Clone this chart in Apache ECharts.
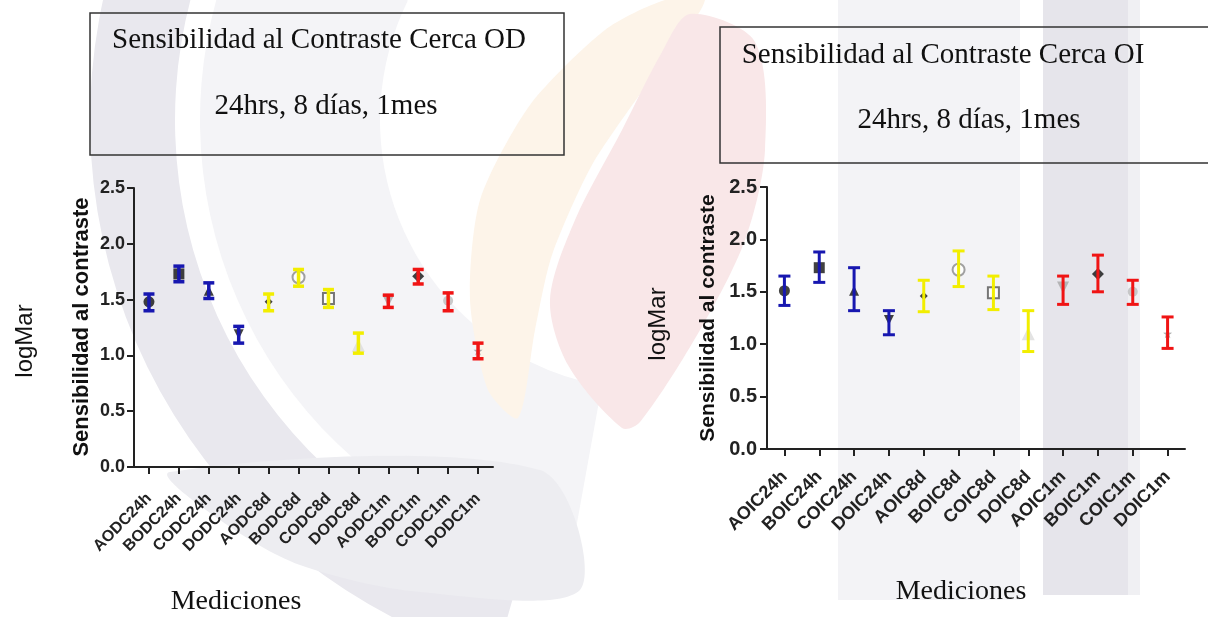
<!DOCTYPE html>
<html>
<head>
<meta charset="utf-8">
<script src="https://cdn.jsdelivr.net/npm/echarts@6/dist/echarts.min.js"></script>
<style>
html,body{margin:0;padding:0;background:#fff;}
#chart{width:1208px;height:617px;}
</style>
</head>
<body>
<div id="chart"></div>
<script>
// ---- Data ----
const odCategories = ['AODC24h','BODC24h','CODC24h','DODC24h','AODC8d','BODC8d','CODC8d','DODC8d','AODC1m','BODC1m','CODC1m','DODC1m'];
const odMean = [1.48, 1.73, 1.58, 1.19, 1.48, 1.70, 1.51, 1.09, 1.49, 1.71, 1.49, 1.04];
const odLow  = [1.40, 1.66, 1.51, 1.11, 1.40, 1.62, 1.43, 1.02, 1.43, 1.64, 1.40, 0.97];
const odHigh = [1.55, 1.80, 1.65, 1.26, 1.55, 1.77, 1.59, 1.20, 1.54, 1.77, 1.56, 1.11];

const oiCategories = ['AOIC24h','BOIC24h','COIC24h','DOIC24h','AOIC8d','BOIC8d','COIC8d','DOIC8d','AOIC1m','BOIC1m','COIC1m','DOIC1m'];
const oiMean = [1.51, 1.73, 1.51, 1.23, 1.46, 1.71, 1.49, 1.10, 1.54, 1.67, 1.50, 1.10];
const oiLow  = [1.37, 1.59, 1.32, 1.09, 1.31, 1.55, 1.33, 0.93, 1.38, 1.50, 1.38, 0.96];
const oiHigh = [1.65, 1.88, 1.73, 1.32, 1.61, 1.89, 1.65, 1.32, 1.65, 1.85, 1.61, 1.26];

const yTicks = [0.0, 0.5, 1.0, 1.5, 2.0, 2.5];
// measurement period of each category: 0 = 24h, 1 = 8d, 2 = 1m
const periodGroup = [0,0,0,0,1,1,1,1,2,2,2,2];

// ---- Styles ----
const periodColors = ['#1717b0', '#f2ee00', '#f01414'];
const downTri = 'path://M0,0 L10,0 L5,9 Z';
const star = 'path://M5,0 L6.2,3.6 L10,3.8 L7,6.1 L8.1,10 L5,7.7 L1.9,10 L3,6.1 L0,3.8 L3.8,3.6 Z';
const markerSymbols = ['circle','rect','triangle',downTri,'diamond','emptyCircle','emptyRect','triangle',downTri,'diamond','circle',star];
const markerColors  = ['#111','#111','#111','#111','#111','#8a8a8a','#555','#dcdcdc','#a8a8a8','#111','#bdbdbd','#999'];
const markerSizes   = [11,11,10,10,8,12,11,13,12,12,10,9];

function markerData(means){
  return means.map((v,i)=>({
    value: v,
    symbol: markerSymbols[i],
    symbolSize: markerSizes[i],
    itemStyle: {color: markerColors[i], borderColor: markerColors[i], borderWidth: (i===5||i===6)?3:0}
  }));
}
function errData(low, high){
  return low.map((lo,i)=>[i, lo, high[i], periodGroup[i]]);
}
function errRender(capHalf, lw){
  return function(params, api){
    const x = api.value(0), lo = api.value(1), hi = api.value(2);
    const pLo = api.coord([x, lo]), pHi = api.coord([x, hi]);
    const color = periodColors[api.value(3)];
    const style = {stroke: color, lineWidth: lw};
    return {type:'group', children:[
      {type:'line', shape:{x1:pLo[0],y1:pLo[1],x2:pHi[0],y2:pHi[1]}, style: style},
      {type:'line', shape:{x1:pLo[0]-capHalf,y1:pLo[1],x2:pLo[0]+capHalf,y2:pLo[1]}, style: style},
      {type:'line', shape:{x1:pHi[0]-capHalf,y1:pHi[1],x2:pHi[0]+capHalf,y2:pHi[1]}, style: style}
    ]};
  };
}

const axisColor = '#222';
function yAxisDef(gridIndex, fs, margin){
  return {
    type:'value', gridIndex: gridIndex, min: yTicks[0], max: yTicks[yTicks.length-1], interval: 0.5,
    axisLine:{show:true, lineStyle:{color:axisColor, width:2}},
    axisTick:{show:true, length:7, lineStyle:{color:axisColor, width:2}},
    axisLabel:{fontFamily:'Liberation Sans, Arial', fontWeight:'bold', fontSize:fs, color:'#222', margin:margin,
      formatter: v => v.toFixed(1)},
    splitLine:{show:false}
  };
}
function xAxisDef(gridIndex, cats, fs, margin){
  return {
    type:'category', gridIndex: gridIndex, data: cats, boundaryGap: true,
    axisLine:{show:true, onZero:false, lineStyle:{color:axisColor, width:2}},
    axisTick:{show:true, alignWithLabel:true, length:7, lineStyle:{color:axisColor, width:2}},
    axisLabel:{interval:0, rotate:45, fontFamily:'Liberation Sans, Arial', fontWeight:'bold', fontSize:fs, color:'#222', margin:margin},
    splitLine:{show:false}
  };
}

const serif = 'Liberation Serif, Times New Roman, serif';
const sans = 'Liberation Sans, Arial, sans-serif';
function txt(x, y, text, font, rot){
  return {type:'text', x:x, y:y, rotation: rot||0, z: 10,
    style:{text:text, font:font, fill:'#111', align:'center', verticalAlign:'middle'}};
}

// watermark-like background shapes
const bg = [
  {type:'sector', z:-10, shape:{cx:650, cy:120, r0:475, r:560, startAngle:1.85, endAngle:3.6}, style:{fill:'#e9e8ee'}},
  {type:'sector', z:-10, shape:{cx:650, cy:120, r0:270, r:450, startAngle:1.75, endAngle:3.6}, style:{fill:'#f4f4f7'}},
  {type:'polygon', z:-9, shape:{smooth:0.3, points:[[170,472],[540,470],[580,590],[420,592],[300,565],[220,520]]}, style:{fill:'#ededf1'}},
  {type:'polygon', z:-8, shape:{smooth:0.25, points:[[665,0],[705,0],[650,80],[592,165],[552,255],[535,330],[518,418],[488,390],[470,300],[480,200],[530,105],[605,30]]}, style:{fill:'#fdf4e9'}},
  {type:'polygon', z:-8, shape:{smooth:0.3, points:[[690,14],[755,42],[765,150],[745,240],[700,330],[640,422],[622,428],[568,365],[550,300],[575,220],[622,130],[662,52]]}, style:{fill:'#f9e7e8'}},
  {type:'rect', z:-10, shape:{x:838, y:0, width:182, height:600}, style:{fill:'#f3f3f6'}},
  {type:'rect', z:-10, shape:{x:1043, y:0, width:85, height:595}, style:{fill:'#e6e5eb'}},
  {type:'rect', z:-10, shape:{x:1128, y:0, width:12, height:595}, style:{fill:'#f0f0f3'}}
];

const graphics = bg.concat([
  {type:'rect', z:5, shape:{x:90, y:13, width:474, height:142}, style:{fill:'rgba(0,0,0,0)', stroke:'#333', lineWidth:1.5}},
  {type:'rect', z:5, shape:{x:720, y:27, width:495, height:136}, style:{fill:'rgba(0,0,0,0)', stroke:'#333', lineWidth:1.5}},
  txt(319, 40, 'Sensibilidad al Contraste Cerca OD', '29px ' + serif),
  txt(326, 106, '24hrs, 8 días, 1mes', '29px ' + serif),
  txt(943, 55, 'Sensibilidad al Contraste Cerca OI', '29px ' + serif),
  txt(969, 120, '24hrs, 8 días, 1mes', '29px ' + serif),
  txt(25, 341, 'logMar', '24px ' + sans, Math.PI/2),
  txt(658, 324, 'logMar', '24px ' + sans, Math.PI/2),
  txt(82, 327, 'Sensibilidad al contraste', 'bold 22px ' + sans, Math.PI/2),
  txt(708, 318, 'Sensibilidad al contraste', 'bold 21px ' + sans, Math.PI/2),
  txt(236, 602, 'Mediciones', '28px ' + serif),
  txt(961, 592, 'Mediciones', '28px ' + serif)
]);

const chart = echarts.init(document.getElementById('chart'), null, {renderer:'canvas'});
chart.setOption({
  backgroundColor:'#ffffff',
  animation:false,
  grid:[
    {left:134, top:188, width:359, height:279},
    {left:767, top:187, width:418, height:262}
  ],
  xAxis:[xAxisDef(0, odCategories, 16, 29), xAxisDef(1, oiCategories, 18, 25)],
  yAxis:[yAxisDef(0, 18, 9), yAxisDef(1, 20, 10)],
  graphic: graphics,
  series:[
    {type:'scatter', xAxisIndex:0, yAxisIndex:0, z:2, data: markerData(odMean)},
    {type:'custom', xAxisIndex:0, yAxisIndex:0, z:3, renderItem: errRender(5.5, 3.5),
      encode:{x:0, y:[1,2]}, data: errData(odLow, odHigh)},
    {type:'scatter', xAxisIndex:1, yAxisIndex:1, z:2, data: markerData(oiMean)},
    {type:'custom', xAxisIndex:1, yAxisIndex:1, z:3, renderItem: errRender(6, 3),
      encode:{x:0, y:[1,2]}, data: errData(oiLow, oiHigh)}
  ]
});
</script>
</body>
</html>
